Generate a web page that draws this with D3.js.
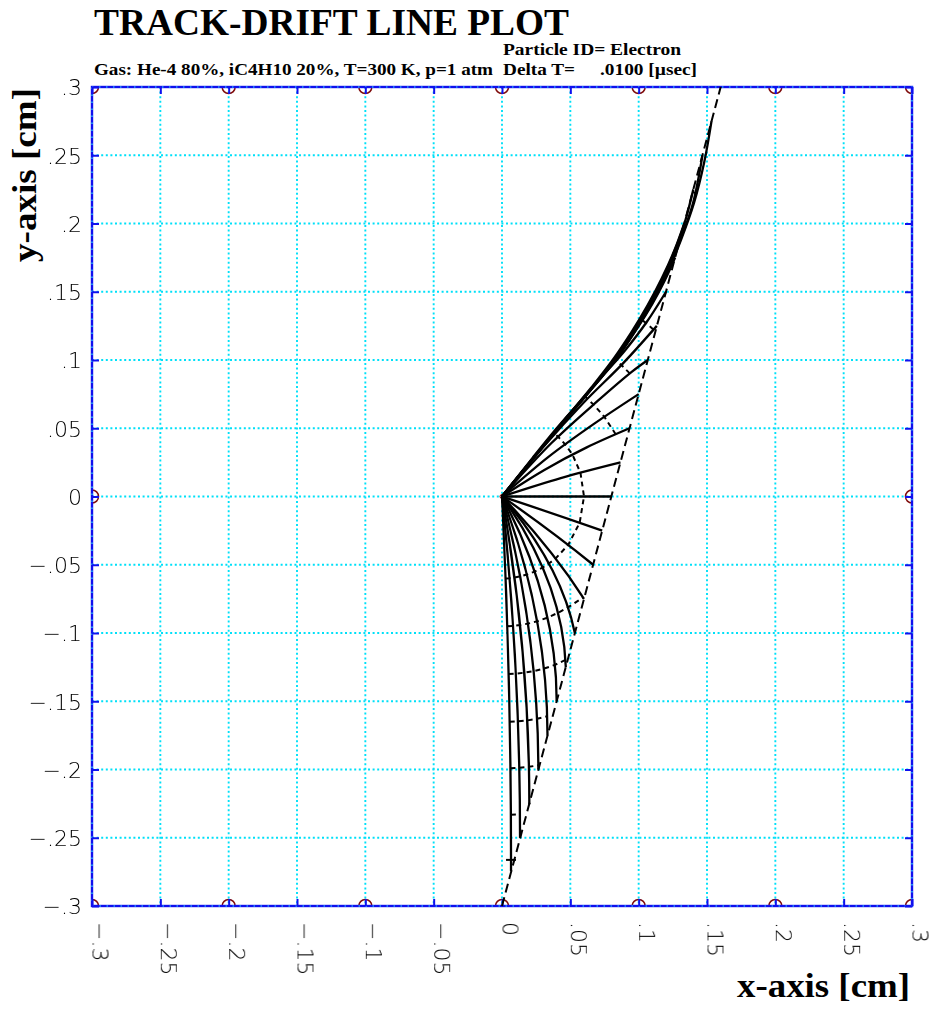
<!DOCTYPE html>
<html>
<head>
<meta charset="utf-8">
<script src="https://cdn.jsdelivr.net/npm/d3@7"></script>
<style>
  body { margin: 0; background: #fff; }
  .tickLabel { font-family: "DejaVu Sans", sans-serif; font-weight: 200; font-size: 22px; fill: #000; }
  .serifBold { font-family: "Liberation Serif", "Times New Roman", serif; font-weight: bold; fill: #000; }
</style>
</head>
<body>
<div class="chart"></div>
<script>
// tick values and their printed labels
const tickValues = [-0.3, -0.25, -0.2, -0.15, -0.1, -0.05, 0, 0.05, 0.1, 0.15, 0.2, 0.25, 0.3]
const xTickLabels = ['\u2212.3', '\u2212.25', '\u2212.2', '\u2212.15', '\u2212.1', '\u2212.05', '0', '.05', '.1', '.15', '.2', '.25', '.3']
const yTickLabels = ['\u2212.3', '\u2212.25', '\u2212.2', '\u2212.15', '\u2212.1', '\u2212.05', '0', '.05', '.1', '.15', '.2', '.25', '.3']

// wires of the cell
const rowWiresX = [-0.3, -0.2, -0.1, 0, 0.1, 0.2, 0.3]   // at y = +-0.3
const sideWiresY = [0]                                   // at x = +-0.3
const senseWire = [0, 0]

// the track (dashed)
const track = [[0, -0.3], [0.16, 0.3]]

// isochrone distances along the drift lines, measured from the wire [cm]
const isochroneDist = [0.06, 0.095, 0.13, 0.165, 0.199, 0.233, 0.266]

// drift lines below the wire: [track point, bezier control, wire]
const driftBelow = [
  [[0.0066, -0.2745], [0.0068, -0.137], [0, 0]],
  [[0.0132, -0.25], [0.0132, -0.125], [0, 0]],
  [[0.02, -0.2255], [0.02, -0.113], [0, 0]],
  [[0.0266, -0.2], [0.0266, -0.1], [0, 0]],
  [[0.0333, -0.175], [0.0333, -0.0875], [0, 0]],
  [[0.04, -0.15], [0.04, -0.075], [0, 0]],
  [[0.0467, -0.125], [0.0445, -0.0625], [0, 0]],
  [[0.0533, -0.1], [0.043, -0.05], [0, 0]],
  [[0.06, -0.075], [0.036, -0.0375], [0, 0]],
  [[0.0667, -0.05], [0.036, -0.025], [0, 0]],
  [[0.0733, -0.025], [0.0375, -0.0125], [0, 0]],
  [[0.08, 0], [0.04, 0], [0, 0]]
]

// drift lines above the wire, as traced points from the track point to the wire
const driftAbove = [
  [[0.0867, 0.025], [0.043, 0.0135], [0, 0]],
  [[0.0933, 0.05], [0.062, 0.036], [0.031, 0.0195], [0, 0]],
  [[0.1, 0.075], [0.067, 0.053], [0.034, 0.029], [0, 0]],
  [[0.1067, 0.1], [0.0949, 0.0913], [0.07, 0.07], [0.036, 0.039], [0, 0]],
  [[0.1133, 0.125], [0.0887, 0.0977], [0.06, 0.069], [0.03, 0.036], [0, 0]],
  [[0.12, 0.15], [0.106, 0.128], [0.09, 0.107], [0.072, 0.0865], [0.054, 0.065], [0.036, 0.044], [0.018, 0.022], [0, 0]],
  [[0.1267, 0.175], [0.119, 0.158], [0.11, 0.141], [0.0995, 0.124], [0.087, 0.106], [0.073, 0.088], [0.057, 0.0695], [0.04, 0.05], [0.0225, 0.0285], [0, 0]],
  [[0.1333, 0.2], [0.126, 0.18], [0.117, 0.16], [0.1065, 0.14], [0.0945, 0.12], [0.081, 0.1], [0.0655, 0.08], [0.049, 0.06], [0.032, 0.0395], [0.0155, 0.019], [0, 0]],
  [[0.14, 0.225], [0.1335, 0.2], [0.1255, 0.178], [0.1165, 0.157], [0.1055, 0.137], [0.0935, 0.117], [0.08, 0.097], [0.064, 0.077], [0.0475, 0.058], [0.031, 0.038], [0.015, 0.0185], [0, 0]],
  [[0.1467, 0.25], [0.1398, 0.215], [0.1305, 0.188], [0.121, 0.165], [0.11, 0.143], [0.0975, 0.122], [0.0835, 0.101], [0.0665, 0.0805], [0.0495, 0.0605], [0.0325, 0.04], [0.0157, 0.0195], [0, 0]],
  [[0.1533, 0.275], [0.148, 0.245], [0.1405, 0.215], [0.131, 0.188], [0.1215, 0.165], [0.1105, 0.143], [0.098, 0.122], [0.084, 0.101], [0.067, 0.0805], [0.05, 0.0605], [0.033, 0.04], [0.016, 0.0195], [0, 0]]
]

// canvas
const margin = { top: 87, left: 92 }
const width = 820
const height = 819

const svg = d3.select('.chart')
  .append('svg')
  .attr('width', 932)
  .attr('height', 1010)

// grey filter so the thin tick labels stay plain black
svg.append('defs').append('filter').attr('id', 'grey')
  .append('feColorMatrix').attr('type', 'saturate').attr('values', 0)

const plot = svg.append('g')
  .attr('transform', `translate(${margin.left}, ${margin.top})`)

const xScale = d3.scaleLinear().domain([-0.3, 0.3]).range([0, width])
const yScale = d3.scaleLinear().domain([-0.3, 0.3]).range([height, 0])
const pxPerCm = xScale(1) - xScale(0)

plot.append('clipPath').attr('id', 'frameClip')
  .append('rect').attr('width', width).attr('height', height)

// cyan dotted grid
const inner = tickValues.slice(1, -1)
const grid = plot.append('g')
grid.selectAll('line.gx').data(inner).enter().append('line')
  .attr('x1', d => xScale(d)).attr('x2', d => xScale(d))
  .attr('y1', 0).attr('y2', height)
grid.selectAll('line.gy').data(inner).enter().append('line')
  .attr('y1', d => yScale(d)).attr('y2', d => yScale(d))
  .attr('x1', 0).attr('x2', width)
grid.selectAll('line')
  .attr('stroke', '#00e0f8')
  .attr('stroke-width', 1.9)
  .attr('stroke-dasharray', '2,2.6')

// wires (clipped at the frame)
const wires = plot.append('g').attr('clip-path', 'url(#frameClip)')
const wirePos = []
rowWiresX.forEach(x => { wirePos.push([x, 0.3]); wirePos.push([x, -0.3]) })
sideWiresY.forEach(y => { wirePos.push([-0.3, y]); wirePos.push([0.3, y]) })
wires.selectAll('circle').data(wirePos).enter().append('circle')
  .attr('cx', d => xScale(d[0])).attr('cy', d => yScale(d[1]))
  .attr('r', 6.5)
  .attr('fill', 'none').attr('stroke', '#800c0c').attr('stroke-width', 1.5)
plot.append('circle')
  .attr('cx', xScale(senseWire[0])).attr('cy', yScale(senseWire[1]))
  .attr('r', 2).attr('fill', 'none').attr('stroke', '#800c0c').attr('stroke-width', 1)

// frame: blue with cyan dots
plot.append('rect').attr('width', width).attr('height', height)
  .attr('fill', 'none').attr('stroke', '#1010ee').attr('stroke-width', 2.4)
plot.append('rect').attr('width', width).attr('height', height)
  .attr('fill', 'none').attr('stroke', '#30e8ff').attr('stroke-width', 1.2)
  .attr('stroke-dasharray', '1.5,5.5')

// axes, ticks pointing inwards
const xAxis = d3.axisBottom(xScale).tickValues(tickValues)
  .tickFormat((d, i) => xTickLabels[i]).tickSize(-7).tickSizeOuter(0)
const yAxis = d3.axisLeft(yScale).tickValues(tickValues)
  .tickFormat((d, i) => yTickLabels[i]).tickSize(-7).tickSizeOuter(0).tickPadding(10)

const gx = plot.append('g').attr('transform', `translate(0, ${height})`).call(xAxis)
gx.selectAll('text')
  .attr('class', 'tickLabel')
  .attr('filter', 'url(#grey)')
  .attr('transform', 'rotate(90)')
  .attr('x', 16).attr('y', 0).attr('dy', 0)
  .attr('text-anchor', 'start')
const gy = plot.append('g').call(yAxis)
gy.selectAll('text').attr('class', 'tickLabel').attr('filter', 'url(#grey)').attr('dy', '0.36em')
plot.append('g').call(d3.axisTop(xScale).tickValues(tickValues).tickFormat('').tickSize(-7).tickSizeOuter(0))
plot.append('g').attr('transform', `translate(${width}, 0)`)
  .call(d3.axisRight(yScale).tickValues(tickValues).tickFormat('').tickSize(-7).tickSizeOuter(0))
plot.selectAll('.domain').remove()
plot.selectAll('.tick line').attr('stroke', '#1010ee').attr('stroke-width', 2)

// drift lines
const tracedLine = d3.line()
  .x(d => xScale(d[0]))
  .y(d => yScale(d[1]))
  .curve(d3.curveCatmullRom.alpha(0.5))

const bezierLine = pts => {
  const p = d3.path()
  p.moveTo(xScale(pts[0][0]), yScale(pts[0][1]))
  p.quadraticCurveTo(xScale(pts[1][0]), yScale(pts[1][1]), xScale(pts[2][0]), yScale(pts[2][1]))
  return p.toString()
}

const driftGroup = plot.append('g')
driftGroup.selectAll('path.below')
  .data(driftBelow).enter().append('path')
  .attr('class', 'below')
  .attr('d', bezierLine)
driftGroup.selectAll('path.above')
  .data(driftAbove).enter().append('path')
  .attr('class', 'above')
  .attr('d', tracedLine)
const driftPaths = driftGroup.selectAll('path')
  .attr('fill', 'none')
  .attr('stroke', '#000')
  .attr('stroke-width', 2.3)

// track
plot.append('path')
  .attr('d', d3.line().x(d => xScale(d[0])).y(d => yScale(d[1]))(track))
  .attr('fill', 'none').attr('stroke', '#000').attr('stroke-width', 2)
  .attr('stroke-dasharray', '9,5')

// isochrones, joining equal drift distances on neighbouring lines
const nodes = driftPaths.nodes()
const isoGroup = plot.append('g')
isochroneDist.forEach(s => {
  const pts = nodes.map(node => {
    const L = node.getTotalLength()
    const d = s * pxPerCm
    if (d > L) return null
    const p = node.getPointAtLength(L - d)
    return [p.x, p.y]
  })
  // split into runs of consecutive lines
  const runs = []
  let cur = []
  pts.forEach(p => {
    if (p) cur.push(p)
    else { if (cur.length) runs.push(cur); cur = [] }
  })
  if (cur.length) runs.push(cur)
  runs.forEach(run => {
    if (run.length === 1) {
      isoGroup.append('line')
        .attr('x1', run[0][0] - 5).attr('x2', run[0][0] + 5)
        .attr('y1', run[0][1]).attr('y2', run[0][1])
        .attr('stroke', '#000').attr('stroke-width', 2)
    } else {
      isoGroup.append('path')
        .attr('d', d3.line()(run))
        .attr('fill', 'none').attr('stroke', '#000').attr('stroke-width', 2)
        .attr('stroke-dasharray', '5,4')
    }
  })
})

// texts
svg.append('text').attr('class', 'serifBold')
  .attr('x', 94).attr('y', 35).attr('font-size', 38.5)
  .attr('textLength', 475).attr('lengthAdjust', 'spacingAndGlyphs')
  .text('TRACK-DRIFT LINE PLOT')
svg.append('text').attr('class', 'serifBold')
  .attr('x', 94).attr('y', 75).attr('font-size', 17)
  .attr('textLength', 399).attr('lengthAdjust', 'spacingAndGlyphs')
  .text('Gas: He-4 80%, iC4H10 20%, T=300 K, p=1 atm')
svg.append('text').attr('class', 'serifBold')
  .attr('x', 503).attr('y', 55).attr('font-size', 17)
  .attr('textLength', 178).attr('lengthAdjust', 'spacingAndGlyphs')
  .text('Particle ID= Electron')
svg.append('text').attr('class', 'serifBold')
  .attr('x', 503).attr('y', 75).attr('font-size', 17)
  .attr('textLength', 72).attr('lengthAdjust', 'spacingAndGlyphs')
  .text('Delta T=')
svg.append('text').attr('class', 'serifBold')
  .attr('x', 600).attr('y', 75).attr('font-size', 17)
  .attr('textLength', 97).attr('lengthAdjust', 'spacingAndGlyphs')
  .text('.0100 [\u00b5sec]')

svg.append('text').attr('class', 'serifBold')
  .attr('x', 910).attr('y', 997).attr('font-size', 34)
  .attr('text-anchor', 'end')
  .attr('textLength', 173).attr('lengthAdjust', 'spacingAndGlyphs')
  .text('x-axis [cm]')
svg.append('text').attr('class', 'serifBold')
  .attr('transform', 'translate(36, 175) rotate(-90)')
  .attr('font-size', 34)
  .attr('text-anchor', 'middle')
  .attr('textLength', 174).attr('lengthAdjust', 'spacingAndGlyphs')
  .text('y-axis [cm]')
</script>
</body>
</html>
